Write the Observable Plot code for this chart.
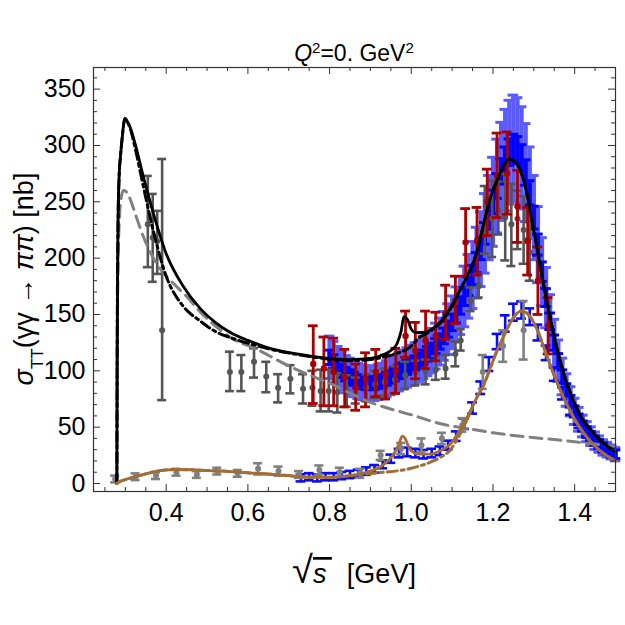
<!DOCTYPE html>
<html><head><meta charset="utf-8">
<script src="https://cdn.jsdelivr.net/npm/d3@7"></script>
<script src="https://cdn.jsdelivr.net/npm/@observablehq/plot@0.6"></script>
<style>body{margin:0;background:#fff}</style>
</head><body><div id="chart"></div>
<script>
// ---------------- data ----------------
// Model curves (sqrt(s) in GeV, sigma_TT in nb)
const totalX = [0.2792,0.2800,0.2820,0.2850,0.2880,0.2920,0.2990,0.3050,0.3120,0.3250,0.3450,0.3700,0.4000,0.4400,0.4840,0.5200,0.5570,0.6000,0.6630,0.7200,0.7860,0.8500,0.9000,0.9300,0.9500,0.9650,0.9750,0.9820,0.9900,1.0000,1.0100,1.0300,1.0500,1.0700,1.0960,1.1200,1.1370,1.1610,1.1770,1.1950,1.2100,1.2250,1.2390,1.2530,1.2680,1.2800,1.2920,1.3100,1.3300,1.3500,1.3800,1.4100,1.4500,1.5000];
const totalY = [0,120,230,275,290,306,324,321,316,300,271,238,204,176,155,143,134,127,119,115,111.5,110,111,114,118,124,135,148,146,137,134,134,137,143,156,172,184,206,230,255,269,281,288,286,277,263,240,205,165,130,90,63,43,28];

const noF0X = [0.2792,0.2800,0.2820,0.2850,0.2880,0.2920,0.2990,0.3050,0.3120,0.3250,0.3450,0.3700,0.4000,0.4400,0.4840,0.5200,0.5570,0.6000,0.6630,0.7200,0.7860,0.8500,0.9000,0.9300,0.9600,1.0000,1.0150,1.0500,1.0700,1.0960,1.1200,1.1370,1.1610,1.1770,1.1950,1.2100,1.2250,1.2390,1.2530,1.2680,1.2800,1.2920,1.3100,1.3300,1.3500,1.3800,1.4100,1.4500,1.5000];
const noF0Y = [0,120,230,275,290,306,324,321,315,296,262,222,184,158,144,135,129.5,124.5,118.5,114.5,111,109,110,112,115,122,128,136,142,155,172,184,206,230,255,269,281,288,286,277,263,240,205,165,130,90,63,43,28];

const bornX = [0.2792,0.2800,0.2820,0.2850,0.2900,0.2950,0.3020,0.3100,0.3200,0.3350,0.3500,0.3750,0.4000,0.4190,0.4500,0.4840,0.5200,0.5600,0.6230,0.6800,0.7450,0.8000,0.8510,0.9000,0.9500,1.0000,1.0720,1.1500,1.2000,1.2920,1.3500,1.4000,1.4500,1.5000];
const bornY = [0,100,190,232,254,260,259,254,244,228,214,196,184,177,166,152,140,129,119,108,97,89,80,72,66,61,53,48,45,41,39,37,35,33];

const neutX = [0.2792,0.2850,0.3000,0.3200,0.3500,0.3780,0.4000,0.4270,0.4600,0.5000,0.5400,0.6000,0.6630,0.7000,0.7450,0.8000,0.8510,0.8900,0.9330,0.9550,0.9700,0.9780,0.9850,0.9920,1.0000,1.0200,1.0470,1.0700,1.0960,1.1150,1.1370,1.1600,1.1780,1.1950,1.2100,1.2280,1.2430,1.2560,1.2680,1.2800,1.2920,1.3100,1.3300,1.3600,1.4000,1.4500,1.5000];
const neutY = [0,1.5,3.5,5.6,8.5,11,12,12.4,12.2,11.5,11,9.5,8,7,5.6,5.5,7,10,17,25,35,42,40,34,29,26,26,29,35,45,59,76,88,104,118,132,143,150,153,152,147.5,135,115,87,57,33,20];

const neutNoF0X = [0.2792,0.2850,0.3000,0.3200,0.3500,0.3780,0.4000,0.4270,0.4600,0.5000,0.5400,0.6000,0.6630,0.7000,0.7450,0.8000,0.8510,0.8900,0.9330,0.9800,1.0000,1.0470,1.0700,1.0960,1.1150,1.1370,1.1600,1.1780,1.1950,1.2100,1.2280,1.2430,1.2560,1.2680,1.2800,1.2920,1.3100,1.3300,1.3600,1.4000,1.4500,1.5000];
const neutNoF0Y = [0,1.5,3.5,5.6,8.5,11,12,12.4,12.2,11.5,11,9.5,8,7,5.6,5.5,7,8.5,10,12,13.5,19,23,30,41,57,76,88,104,118,132,143,150,153,152,147.5,135,115,87,57,33,20];

// Belle gamma gamma -> pi+ pi- (dense), central values
const bellePCx = [0.80,0.81,0.82,0.83,0.84,0.85,0.86,0.87,0.88,0.89,0.90,0.91,0.92,0.93,0.94,0.95,0.96,0.97,0.98,0.99,1.00,1.01,1.02,1.03,1.04,1.05,1.06,1.07,1.08,1.09,1.10,1.11,1.12,1.13,1.14,1.15,1.16,1.17,1.18,1.19,1.20,1.21,1.22,1.23,1.24,1.25,1.26,1.27,1.28,1.29,1.30,1.31,1.32,1.33,1.34,1.35,1.36,1.37,1.38,1.39,1.40,1.41,1.42,1.43,1.44,1.45,1.46,1.47,1.48,1.49,1.50];
const bellePCy = [112,108,104,100,97,95,93,91,90,89,89,89,90,91,93,95,97,99,101,103,105,107,109,112,115,118,122,126,131,137,143,150,158,166,175,185,196,208,222,236,250,264,277,287,294,298,296,289,276,258,236,212,188,165,144,125,109,95,83,73,64,57,51,46,42,38,35,32,30,28,26];
// statistical and systematic half-errors
const bellePCstat = bellePCy.map(v => 0.03 * v + 3);
const bellePCsys  = bellePCy.map(v => 0.15 * v + 2);

// Belle gamma gamma -> pi0 pi0
const belleNNx = [0.73,0.75,0.77,0.79,0.81,0.83,0.85,0.87,0.89,0.91,0.93,0.95,0.97,0.99,1.01,1.03,1.05,1.07,1.09,1.11,1.13,1.15,1.17,1.19,1.21,1.23,1.25,1.27,1.29,1.31,1.33,1.35,1.37,1.39,1.41,1.43,1.45,1.47,1.49];
const belleNNy = [5,6,5,6,6,7,8,9,11,13,17,22,27,28,27,26,27,29,34,42,53,67,85,106,126,142,152,154,148,134,116,97,80,66,54,45,38,32,27];
const belleNNerr = belleNNy.map(v => 0.03 * v + 3);

// Mark II / CELLO pi+ pi- (dark gray): x, value, low, high
const grayPCx  = [0.355,0.367,0.378,0.390,0.556,0.584,0.615,0.645,0.674,0.704,0.735,0.758,0.778,0.798,0.819,0.842,0.864,0.890,0.912,0.935,0.960,0.985,1.010,1.035,1.060,1.084,1.108,1.121,1.145,1.165,1.180,1.198,1.213,1.230,1.245,1.260,1.275,1.290];
const grayPCy  = [230,218,215,136,99,99,108,95,85,93,84,85,82,82,81,82,82,85,88,90,92,96,98,100,101,102,115,127,162,175,232,235,242,236,230,235,225,205];
const grayPClo = [192,179,186,74,82,82,94,81,72,80,71,69,64,64,63,68,71,73,76,78,80,84,87,88,92,93,104,118,153,165,204,201,221,198,193,208,195,180];
const grayPChi = [273,257,242,288,117,114,120,108,97,105,97,100,101,101,98,96,94,97,100,102,104,108,109,110,113,114,126,137,174,186,264,269,268,275,266,260,255,232];

// Mark II pi+ pi- (dark red)
const redX  = [0.760,0.786,0.810,0.837,0.864,0.888,0.913,0.937,0.962,0.986,1.010,1.035,1.060,1.084,1.108,1.133,1.161,1.186,1.210,1.235,1.260,1.285,1.310,1.335];
const redY  = [106,102,99,94,85,93,99,97,100,131,118,127,131,151,162,214,215,250,273,275,246,215,180,140];
const redLo = [71,69,69,68,65,68,77,75,80,112,93,102,109,128,142,184,185,220,236,239,214,185,150,115];
const redHi = [140,130,129,119,106,116,119,114,120,153,143,153,152,176,184,244,245,279,311,312,278,245,210,165];

// Crystal Ball pi0 pi0 (gray)
const cbX   = [0.275,0.325,0.375,0.425,0.475,0.525,0.575,0.625,0.675,0.725,0.775,0.825,0.875,0.925,0.975,1.025,1.075,1.125,1.175,1.225,1.275];
const cbY   = [4,6,7,10,8,11,9,13,11,8,12,10,9,25,31,34,40,52,99,122,136];
const cbErr = [3,3,3,3,3,3,3,5,4,3,4,4,4,4,5,6,5,6,15,14,26];

// axis ticks and labels
const xMajor = [0.4,0.6,0.8,1.0,1.2,1.4];
const xMinor = [0.25,0.3,0.35,0.45,0.5,0.55,0.65,0.7,0.75,0.85,0.9,0.95,1.05,1.1,1.15,1.25,1.3,1.35,1.45,1.5];
const yMajor = [0,50,100,150,200,250,300,350];
const yMinor = [10,20,30,40,60,70,80,90,110,120,130,140,160,170,180,190,210,220,230,240,260,270,280,290,310,320,330,340,360];

// ---------------- layout / style ----------------
const W = 625, H = 625, mL = 93, mR = 10, mT = 67, mB = 134;
const fW = W - mL - mR, fH = H - mT - mB;
const FONT = "Liberation Sans, Arial, Helvetica, sans-serif";
const frameColor = "#333";

const zip2 = (xs, ys) => xs.map((x, i) => ({x, y: ys[i]}));
const curve = (xs, ys, opts) => Plot.line(zip2(xs, ys), {x: "x", y: "y", curve: "monotone-x", ...opts});

function errBars(rows, color, {sw = 2.5, cap = 0.011, r = 0, capSw = sw} = {}) {
  const marks = [
    Plot.ruleX(rows, {x: "x", y1: "lo", y2: "hi", stroke: color, strokeWidth: sw}),
    Plot.ruleY(rows, {y: "hi", x1: d => d.x - cap, x2: d => d.x + cap, stroke: color, strokeWidth: capSw}),
    Plot.ruleY(rows, {y: "lo", x1: d => d.x - cap, x2: d => d.x + cap, stroke: color, strokeWidth: capSw})
  ];
  if (r > 0) marks.push(Plot.dot(rows, {x: "x", y: "y", r, fill: color, stroke: "none"}));
  return marks;
}

const bellePCsysRows  = bellePCx.map((x, i) => ({x, y: bellePCy[i], lo: bellePCy[i] - bellePCsys[i], hi: bellePCy[i] + bellePCsys[i]}));
const bellePCstatRows = bellePCx.map((x, i) => ({x, y: bellePCy[i], lo: bellePCy[i] - bellePCstat[i], hi: bellePCy[i] + bellePCstat[i]}));
const belleNNRows = belleNNx.map((x, i) => ({x, y: belleNNy[i], lo: belleNNy[i] - belleNNerr[i], hi: belleNNy[i] + belleNNerr[i]}));
const grayPCRows = grayPCx.map((x, i) => ({x, y: grayPCy[i], lo: grayPClo[i], hi: grayPChi[i]}));
const redRows = redX.map((x, i) => ({x, y: redY[i], lo: redLo[i], hi: redHi[i]}));
const cbRows = cbX.map((x, i) => ({x, y: cbY[i], lo: cbY[i] - cbErr[i], hi: cbY[i] + cbErr[i]}));

const plot = Plot.plot({
  width: W, height: H,
  marginLeft: mL, marginRight: mR, marginTop: mT, marginBottom: mB,
  style: {fontFamily: FONT, background: "white", color: "#000"},
  x: {domain: [0.222, 1.5], axis: null},
  y: {domain: [-7.1, 369.2], axis: null},
  marks: [
    // data
    ...errBars(bellePCsysRows, "#5a5aff", {sw: 4.3, capSw: 3, cap: 0.013}),
    ...errBars(bellePCstatRows, "#0000ff", {sw: 4.3, capSw: 3, cap: 0.013}),
    ...errBars(belleNNRows, "#0a0aff", {sw: 2.6, cap: 0.012}),
    ...errBars(cbRows, "#808080", {sw: 2.6, cap: 0.011, r: 3}),
    ...errBars(grayPCRows, "#555555", {sw: 2.6, cap: 0.011, r: 3}),
    ...errBars(redRows, "#aa0000", {sw: 2.8, cap: 0.012, r: 3.2}),
    // curves
    curve(bornX, bornY, {stroke: "#808080", strokeWidth: 3, strokeDasharray: "12,7"}),
    curve(noF0X, noF0Y, {stroke: "#000", strokeWidth: 3, strokeDasharray: "10,4,3,4"}),
    curve(totalX, totalY, {stroke: "#000", strokeWidth: 2.8}),
    curve(neutNoF0X, neutNoF0Y, {stroke: "#a36e36", strokeWidth: 3, strokeDasharray: "10,4,3,4"}),
    curve(neutX, neutY, {stroke: "#a36e36", strokeWidth: 2.8}),
    // frame ticks (inward, all four sides)
    Plot.tickX(xMajor, {x: d => d, insetTop: fH - 7, stroke: frameColor, strokeWidth: 1}),
    Plot.tickX(xMinor, {x: d => d, insetTop: fH - 4, stroke: frameColor, strokeWidth: 1}),
    Plot.tickX(xMajor, {x: d => d, insetBottom: fH - 7, stroke: frameColor, strokeWidth: 1}),
    Plot.tickX(xMinor, {x: d => d, insetBottom: fH - 4, stroke: frameColor, strokeWidth: 1}),
    Plot.tickY(yMajor, {y: d => d, insetRight: fW - 7, stroke: frameColor, strokeWidth: 1}),
    Plot.tickY(yMinor, {y: d => d, insetRight: fW - 4, stroke: frameColor, strokeWidth: 1}),
    Plot.tickY(yMajor, {y: d => d, insetLeft: fW - 7, stroke: frameColor, strokeWidth: 1}),
    Plot.tickY(yMinor, {y: d => d, insetLeft: fW - 4, stroke: frameColor, strokeWidth: 1}),
    Plot.frame({stroke: frameColor, strokeWidth: 1.2}),
    // tick labels
    Plot.axisX(xMajor, {anchor: "bottom", tickSize: 0, tickPadding: 12, fontSize: 25, tickFormat: d => d.toFixed(1), label: null, fill: "#000"}),
    Plot.axisY(yMajor, {anchor: "left", tickSize: 0, tickPadding: 8, fontSize: 25, tickFormat: d => String(d), label: null, fill: "#000"})
  ]
});

// titles / axis labels as real text
const svg = d3.select(plot);
const t = svg.append("text")
  .attr("x", mL + fW / 2).attr("y", 61)
  .attr("text-anchor", "middle")
  .style("font-family", FONT).style("font-size", "23px").attr("fill", "#000");
t.append("tspan").style("font-style", "italic").text("Q");
t.append("tspan").attr("baseline-shift", "super").style("font-size", "15px").text("2");
t.append("tspan").text("=0. GeV");
t.append("tspan").attr("baseline-shift", "super").style("font-size", "15px").text("2");

const xl = svg.append("text")
  .attr("x", mL + fW / 2).attr("y", 583)
  .attr("text-anchor", "middle")
  .style("font-family", FONT).style("font-size", "27px").attr("fill", "#000");
xl.append("tspan").style("font-size", "38px").text("\u221A");
xl.append("tspan").style("font-style", "italic").style("text-decoration", "overline").text("s\u2009");
xl.append("tspan").text("  [GeV]");

const yl = svg.append("text")
  .attr("transform", `translate(33,${mT + fH / 2}) rotate(-90)`)
  .attr("text-anchor", "middle")
  .style("font-family", FONT).style("font-size", "27px").attr("fill", "#000");
yl.append("tspan").style("font-style", "italic").text("\u03C3");
yl.append("tspan").attr("baseline-shift", "sub").style("font-size", "17px").text("TT");
yl.append("tspan").text("(\u03B3\u03B3 \u2192 ");
yl.append("tspan").style("font-style", "italic").text("\u03C0\u03C0");
yl.append("tspan").text(") [nb]");

document.getElementById("chart").appendChild(plot);
</script>
</body></html>
